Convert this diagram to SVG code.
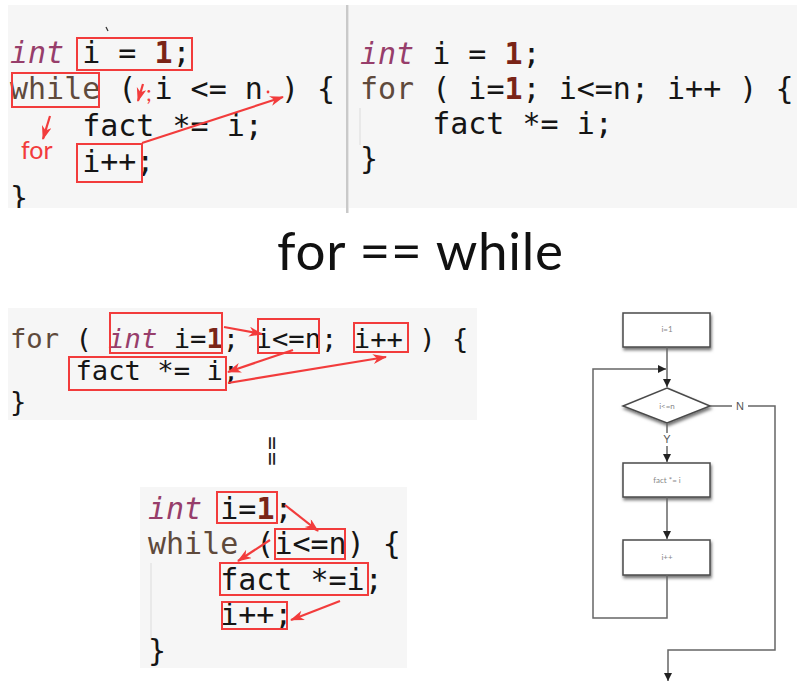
<svg xmlns="http://www.w3.org/2000/svg" width="797" height="687" viewBox="0 0 797 687">
  <style>
    .panel { fill: #f6f6f6; }
    .code { font-family: "DejaVu Sans Mono", "Liberation Mono", monospace; font-size: 30px; fill: #151515; white-space: pre; }
    .code.sm { font-size: 27.2px; }
    .ty { fill: #973e6b; font-style: italic; }
    .kw { fill: #5f4a3c; }
    .num { fill: #7a2417; font-weight: bold; }
    .hl { fill: none; stroke: #f23c3c; stroke-width: 2; }
    .red-arrow { fill: none; stroke: #f23c3c; stroke-width: 2.2; marker-end: url(#redHead); }
    .note { font-family: "Lato", "Noto Sans", sans-serif; fill: #f23c3c; }
    .title { font-family: "Lato", "Noto Sans", sans-serif; font-size: 53px; fill: #111; }
    .guide { stroke: #dcdcdc; stroke-width: 1; }
    .fbox { fill: #fff; stroke: #4a4a4a; stroke-width: 1.5; filter: url(#shadow); }
    .ftext { font-family: "Lato", "Noto Sans", sans-serif; font-size: 8px; fill: #888; text-anchor: middle; }
    .flabel { font-family: "Liberation Sans", Arial, sans-serif; font-size: 11px; fill: #555; text-anchor: middle; }
    .flow { fill: none; stroke: #666; stroke-width: 1.5; }
    .flow.arr { marker-end: url(#flowHead); }
  </style>
  <defs>
    <marker id="redHead" markerUnits="userSpaceOnUse" markerWidth="15" markerHeight="11" refX="13" refY="5" orient="auto">
      <path d="M0,0 L14,5 L0,10 L4,5 z" fill="#f23c3c"/>
    </marker>
    <marker id="flowHead" markerUnits="userSpaceOnUse" markerWidth="9" markerHeight="8" refX="8" refY="4" orient="auto">
      <path d="M0,0 L8,4 L0,8 z" fill="#222"/>
    </marker>
    <filter id="shadow" x="-20%" y="-30%" width="140%" height="170%">
      <feDropShadow dx="1" dy="2.5" stdDeviation="1.5" flood-color="#000" flood-opacity="0.55"/>
    </filter>
    <clipPath id="topClip">
      <rect x="0" y="5" width="797" height="203"/>
    </clipPath>
  </defs>

  <rect width="797" height="687" fill="#fff"/>

  <!-- while loop snippet, top left -->
  <g id="while-snippet" clip-path="url(#topClip)">
    <rect class="panel" x="8" y="5" width="338" height="203"/>
    <text class="code" x="10" y="63"><tspan class="ty">int</tspan> i = <tspan class="num">1</tspan>;</text>
    <text class="code" x="10" y="99"><tspan class="kw">while</tspan> (</text>
    <text class="code" x="154.5" y="99">i &lt;= n ) {</text>
    <text class="code" x="82.2" y="136">fact *= i;</text>
    <text class="code" x="82.2" y="172">i++;</text>
    <text class="code" x="10" y="208">}</text>
    <line x1="106" y1="27" x2="108" y2="31" stroke="#333" stroke-width="1.2"/>
    <rect class="hl" x="77" y="38" width="115" height="32"/>
    <rect class="hl" x="12" y="73" width="87" height="34"/>
    <rect class="hl" x="77" y="144" width="65" height="38"/>
    <text class="note" x="146" y="101" font-size="22">;</text>
    <circle cx="268" cy="92" r="1.4" fill="#f23c3c"/>
    <text class="note" x="21" y="159" font-size="25">for</text>
  </g>

  <!-- separator between the two top snippets -->
  <rect x="346" y="5" width="2.5" height="208" fill="#c9c9c9"/>

  <!-- for loop snippet, top right -->
  <g id="for-snippet">
    <rect class="panel" x="349" y="5" width="448" height="203" fill="#f7f7f7"/>
    <line class="guide" x1="360" y1="108" x2="360" y2="145"/>
    <text class="code" x="360" y="64"><tspan class="ty">int</tspan> i = <tspan class="num">1</tspan>;</text>
    <text class="code" x="360" y="99"><tspan class="kw">for</tspan> ( i=<tspan class="num">1</tspan>; i&lt;=n; i++ ) {</text>
    <text class="code" x="432.2" y="134">fact *= i;</text>
    <text class="code" x="360" y="169">}</text>
  </g>

  <!-- heading -->
  <g id="title">
    <text class="title" x="420" y="270" text-anchor="middle" textLength="286" lengthAdjust="spacing">for == while</text>
  </g>

  <!-- for loop with declaration, bottom left -->
  <g id="for-decl-snippet">
    <rect class="panel" x="8" y="308" width="469" height="112" fill="#f5f5f5"/>
    <text class="code sm" x="10" y="348"><tspan class="kw">for</tspan> ( <tspan class="ty">int</tspan> i=<tspan class="num">1</tspan>; i&lt;=n; i++ ) {</text>
    <text class="code sm" x="75.5" y="380">fact *= i;</text>
    <text class="code sm" x="10" y="411">}</text>
    <rect class="hl" x="110" y="313" width="112" height="40"/>
    <rect class="hl" x="258" y="319" width="61" height="34"/>
    <rect class="hl" x="354" y="323" width="54" height="29"/>
    <rect class="hl" x="69" y="357" width="157" height="33"/>
  </g>

  <!-- vertical equals sign -->
  <g id="equals">
    <text transform="translate(272,451) rotate(90)" x="0" y="9" text-anchor="middle" font-family="Lato, 'Noto Sans', sans-serif" font-size="27" fill="#222">==</text>
  </g>

  <!-- equivalent while loop, bottom centre -->
  <g id="while-equiv-snippet">
    <rect class="panel" x="140" y="487" width="267" height="181" fill="#f5f5f5"/>
    <line class="guide" x1="151" y1="563" x2="151" y2="640"/>
    <text class="code" x="148" y="519"><tspan class="ty">int</tspan> i=<tspan class="num">1</tspan>;</text>
    <text class="code" x="148" y="554"><tspan class="kw">while</tspan> (i&lt;=n) {</text>
    <text class="code" x="220.2" y="590">fact *=i;</text>
    <text class="code" x="220.2" y="625">i++;</text>
    <text class="code" x="148" y="661">}</text>
    <rect class="hl" x="217" y="492" width="60" height="31"/>
    <rect class="hl" x="275" y="529" width="70" height="30"/>
    <rect class="hl" x="220" y="563" width="148" height="32"/>
    <rect class="hl" x="222" y="602" width="65" height="27"/>
  </g>

  <!-- red annotation arrows -->
  <g id="annotation-arrows">
    <line class="red-arrow" x1="142" y1="143" x2="283" y2="97"/>
    <line class="red-arrow" x1="50" y1="116" x2="43" y2="139"/>
    <line class="red-arrow" x1="143" y1="84" x2="138" y2="101"/>
    <line class="red-arrow" x1="224" y1="327" x2="262" y2="334"/>
    <line class="red-arrow" x1="293" y1="350" x2="228" y2="372"/>
    <line class="red-arrow" x1="228" y1="383" x2="386" y2="357"/>
    <line class="red-arrow" x1="285" y1="505" x2="318" y2="531"/>
    <line class="red-arrow" x1="270" y1="540" x2="238" y2="561"/>
    <line class="red-arrow" x1="340" y1="601" x2="291" y2="620"/>
  </g>

  <!-- flowchart nodes -->
  <g id="node-init">
    <rect class="fbox" x="623" y="313" width="87" height="34"/>
    <text class="ftext" x="667" y="332">i=1</text>
  </g>
  <g id="node-cond">
    <polygon class="fbox" points="667,388 710,406 667,423 623,406"/>
    <text class="ftext" x="667" y="409">i&lt;=n</text>
  </g>
  <g id="node-body">
    <rect class="fbox" x="623" y="463" width="87" height="34"/>
    <text class="ftext" x="667" y="483">fact *= i</text>
  </g>
  <g id="node-inc">
    <rect class="fbox" x="623" y="540" width="87" height="35"/>
    <text class="ftext" x="667" y="560">i++</text>
  </g>

  <!-- flowchart connectors -->
  <g id="flow-connectors">
    <path class="flow arr" d="M667,347 V387"/>
    <path class="flow arr" d="M667,575 V618 H593 V369 H666"/>
    <path class="flow" d="M667,423 V433"/>
    <text class="flabel" x="667" y="443">Y</text>
    <path class="flow arr" d="M667,446 V462"/>
    <path class="flow arr" d="M667,497 V539"/>
    <path class="flow" d="M710,406 H732"/>
    <text class="flabel" x="740" y="410">N</text>
    <path class="flow arr" d="M748,406 H775 V650 H668 V681"/>
  </g>
</svg>
